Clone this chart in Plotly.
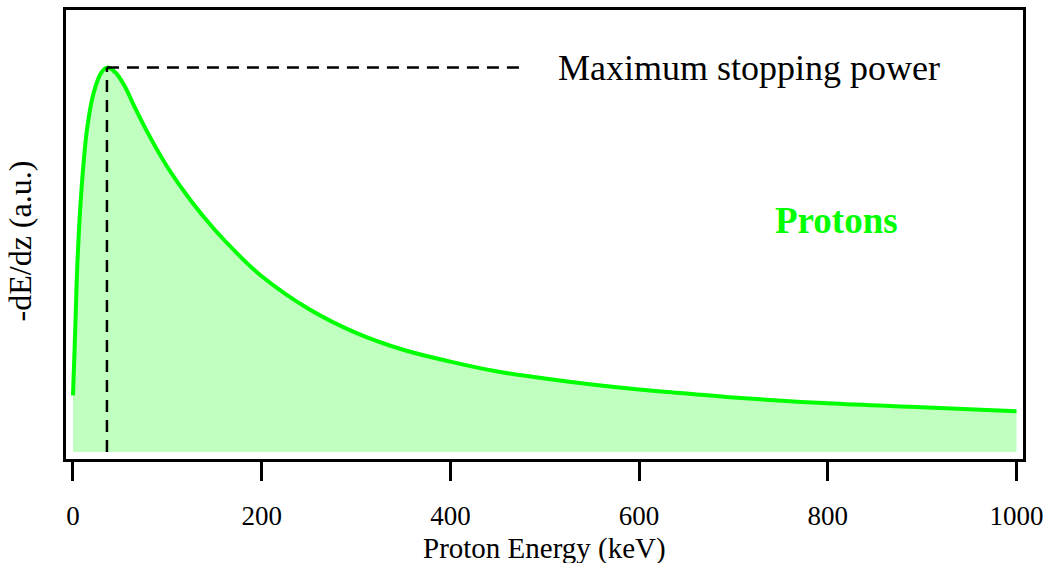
import plotly.graph_objects as go

# Proton energy (keV) and stopping power -dE/dz (arbitrary units)
energy_kev = [0, 2, 5, 9, 15, 22, 30, 36, 45, 55, 65, 80, 100, 125, 150, 175, 200, 250,
              300, 350, 400, 450, 500, 550, 600, 650, 700, 800, 900, 1000]
stopping_power = [57, 112, 197, 264, 326, 362, 382, 387, 382, 368, 348, 320, 287, 253, 224,
                  199, 177, 144, 120, 103, 91, 81, 74, 68, 63, 59, 55, 49, 45, 41]

peak_energy = 36
peak_value = 387
marker_end_energy = 479

tick_vals = [0, 200, 400, 600, 800, 1000]
tick_text = ["0", "200", "400", "600", "800", "1000"]

FONT = "Liberation Serif"
GREEN = "#00ff00"

fig = go.Figure()

fig.add_trace(go.Scatter(
    x=energy_kev, y=stopping_power, mode="lines",
    line=dict(color=GREEN, width=4, shape="spline", smoothing=1.0),
    fill="tozeroy", fillcolor="rgb(192,255,192)",
    hoverinfo="skip", showlegend=False,
))

# dashed marker lines for maximum stopping power
fig.add_trace(go.Scatter(
    x=[peak_energy, peak_energy], y=[0, peak_value], mode="lines",
    line=dict(color="black", width=2.5, dash="12px,8px"),
    hoverinfo="skip", showlegend=False,
))
fig.add_trace(go.Scatter(
    x=[peak_energy, marker_end_energy], y=[peak_value, peak_value], mode="lines",
    line=dict(color="black", width=2.5, dash="12px,8px"),
    hoverinfo="skip", showlegend=False,
))

fig.add_annotation(x=717, xref="x", y=peak_value, yref="y", text="Maximum stopping power",
                   showarrow=False, font=dict(family=FONT, size=36, color="black"),
                   xanchor="center", yanchor="middle")
fig.add_annotation(x=809, xref="x", y=233, yref="y", text="<b>Protons</b>",
                   showarrow=False, font=dict(family=FONT, size=37, color=GREEN),
                   xanchor="center", yanchor="middle")
# y-axis title
fig.add_annotation(x=0, xref="paper", xshift=-46, y=212, yref="y", text="-dE/dz (a.u.)",
                   textangle=-90, showarrow=False,
                   font=dict(family=FONT, size=32, color="black"),
                   xanchor="center", yanchor="middle")
# x-axis title
fig.add_annotation(x=0.5, xref="paper", y=0, yref="paper", yshift=-89,
                   text="Proton Energy (keV)", showarrow=False,
                   font=dict(family=FONT, size=29, color="black"),
                   xanchor="center", yanchor="middle")

fig.update_layout(
    width=1052, height=563,
    margin=dict(l=66, r=29, t=7, b=104),
    paper_bgcolor="white", plot_bgcolor="white",
    font=dict(family=FONT, size=27, color="black"),
    xaxis=dict(
        range=[-7.4, 1006.9], tickmode="array", tickvals=tick_vals, ticktext=tick_text,
        ticks="outside", ticklen=19, tickwidth=3, tickcolor="black",
        ticklabelstandoff=12,
        showline=True, linewidth=3, linecolor="black", mirror=True,
        showgrid=False, zeroline=False,
        tickfont=dict(size=27),
    ),
    yaxis=dict(
        range=[-7, 445], showticklabels=False, ticks="",
        showline=True, linewidth=3, linecolor="black", mirror=True,
        showgrid=False, zeroline=False,
    ),
)

fig.write_html("out.html")
